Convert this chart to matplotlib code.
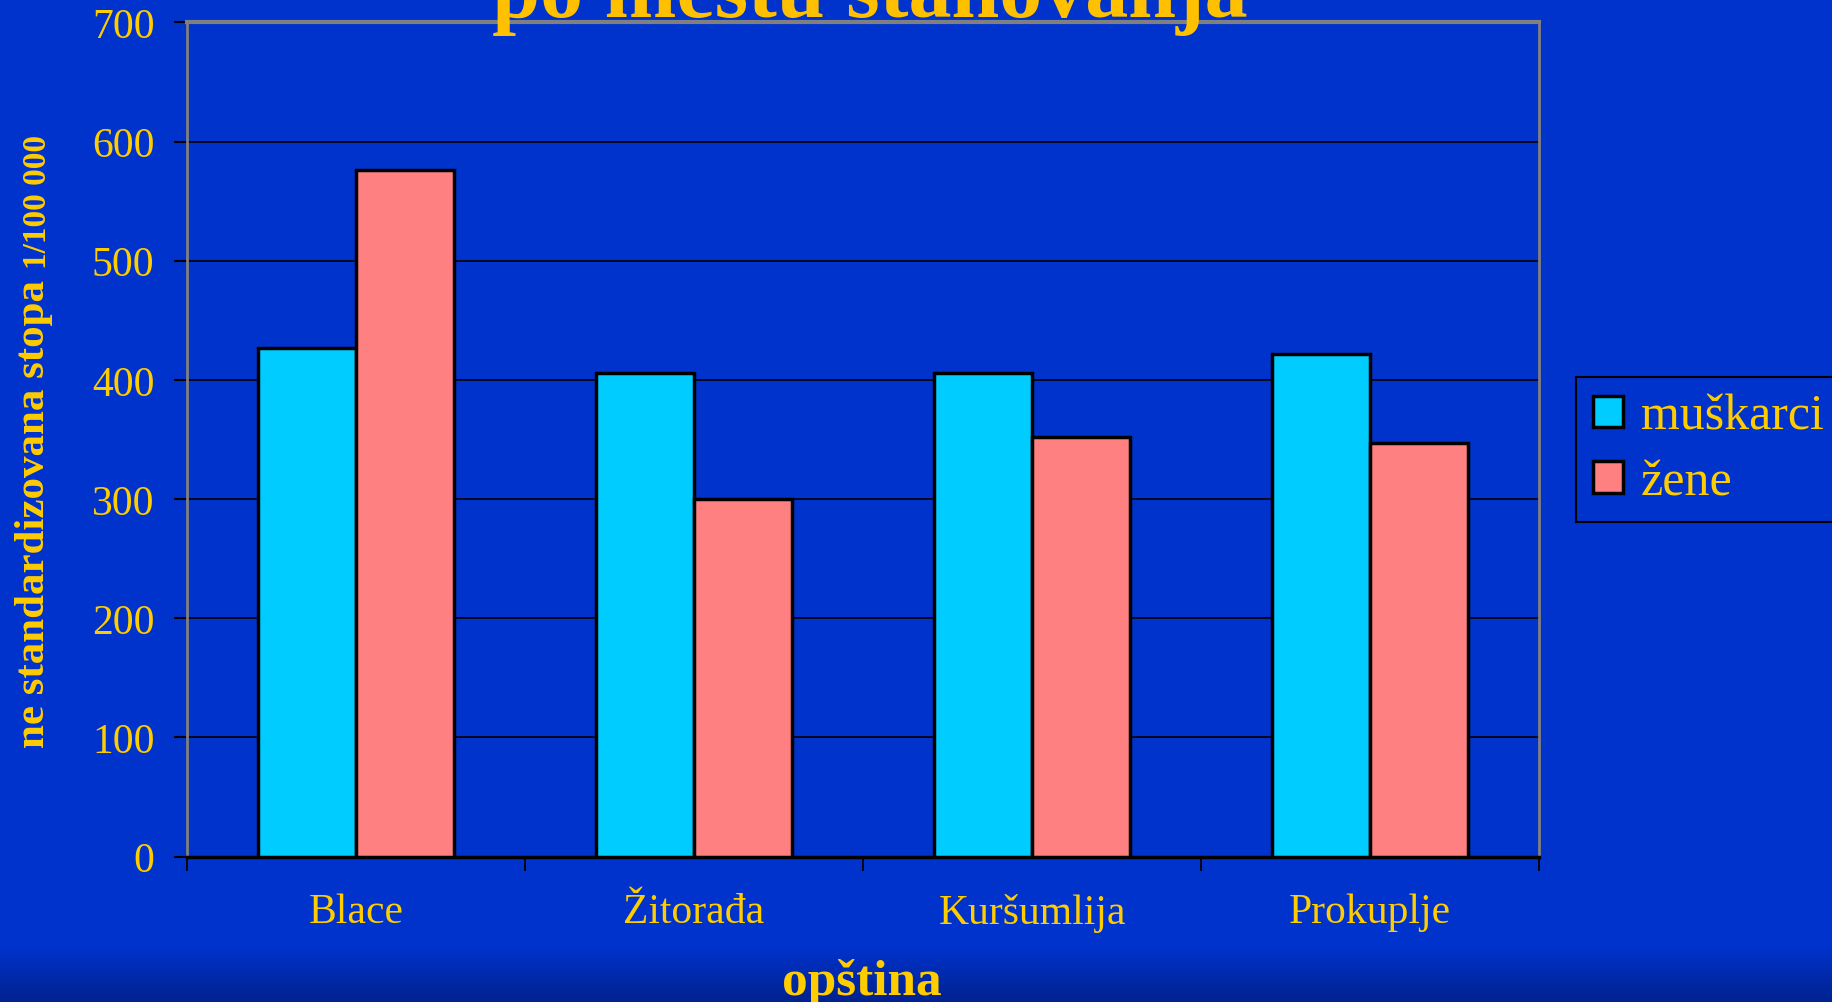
import numpy as np
import matplotlib
matplotlib.use("Agg")
import matplotlib.pyplot as plt
from matplotlib.colors import LinearSegmentedColormap

categories = ["Blace", "Žitorađa", "Kuršumlija", "Prokuplje"]
muskarci = [427, 406, 406, 422]
zene = [576, 300, 352, 347]
series_labels = ["muškarci", "žene"]
yticks = [0, 100, 200, 300, 400, 500, 600, 700]

W, H = 1832, 1003
BG = "#0033CC"
YEL = "#FFCC00"
TITLE_COL = "#FFC000"
SERIF = ["Liberation Serif", "DejaVu Serif"]

plt.rcParams["font.family"] = SERIF

fig = plt.figure(figsize=(W / 100, H / 100), dpi=100)
fig.patch.set_facecolor(BG)

# bottom gradient
gax = fig.add_axes([0, 0, 1, 55 / H], zorder=-5)
grad = np.linspace(0, 1, 100).reshape(-1, 1)
cmap = LinearSegmentedColormap.from_list("g", ["#00218f", BG])
gax.imshow(grad, aspect="auto", cmap=cmap, origin="lower", extent=[0, 1, 0, 1])
gax.axis("off")

left, right, top, bottom = 187, 1539, 23.4, 857.6
ax = fig.add_axes([left / W, (H - bottom) / H, (right - left) / W, (bottom - top) / H])
ax.set_facecolor(BG)

x = np.arange(len(categories))
bw = 0.29
b1 = ax.bar(x - bw / 2, muskarci, bw, color="#00CCFF", edgecolor="black", linewidth=2.5,
            label=series_labels[0], zorder=3)
b2 = ax.bar(x + bw / 2, zene, bw, color="#FF8080", edgecolor="black", linewidth=2.5,
            label=series_labels[1], zorder=3)

ax.set_xlim(-0.5, len(categories) - 0.5)
ax.set_ylim(0, 700)
ax.set_yticks(yticks)
ax.set_yticklabels([str(v) for v in yticks])
ax.yaxis.grid(True, color="black", linewidth=1.2, zorder=0)
ax.set_axisbelow(True)

ax.set_xticks(x)
ax.set_xticklabels(categories)
ax.set_xticks(np.arange(-0.5, len(categories)), minor=True)
ax.tick_params(axis="x", which="major", length=0, pad=26, labelsize=30, labelcolor=YEL)
ax.tick_params(axis="x", which="minor", length=10, width=1.3, color="black", direction="out")
ax.tick_params(axis="y", which="major", length=9.4, width=1.5, color="black", direction="out",
               pad=14, labelsize=30, labelcolor=YEL)

for s in ["left", "right"]:
    ax.spines[s].set_color("#808080")
    ax.spines[s].set_linewidth(2)
ax.spines["top"].set_color("#808080")
ax.spines["top"].set_linewidth(3)
ax.spines["bottom"].set_color("black")
ax.spines["bottom"].set_linewidth(2.5)

# title (cropped at top, as in the reference)
fig.text(870 / W, 1 - 17 / H, "- po mestu stanovanja -", ha="center", va="baseline",
         fontsize=62, fontweight="bold", color=TITLE_COL)

# y label
fig.text(44 / W, 1 - 748 / H, "ne standardizovana stopa", rotation=90, rotation_mode="anchor",
         ha="left", va="baseline", fontsize=31, fontweight="bold", color=YEL)
fig.text(46 / W, 1 - 269 / H, "1/100 000", rotation=90, rotation_mode="anchor",
         ha="left", va="baseline", fontsize=24, fontweight="bold", color=YEL)

# x label
fig.text(862 / W, 1 - 995 / H, "opština", ha="center", va="baseline",
         fontsize=37, fontweight="bold", color=YEL)

leg = fig.legend(handles=[b1, b2], labels=series_labels, loc="upper left",
                 bbox_to_anchor=(1576 / W, 1 - 378 / H), frameon=True, fancybox=False,
                 edgecolor="black", facecolor=BG, framealpha=1, fontsize=36,
                 handlelength=0.6, handleheight=0.6, handletextpad=0.36,
                 borderpad=0.33, labelspacing=0.38, borderaxespad=0)
leg.get_frame().set_linewidth(1.5)
for t in leg.get_texts():
    t.set_color(YEL)

fig.savefig("out.png", dpi=100, facecolor=fig.get_facecolor())
